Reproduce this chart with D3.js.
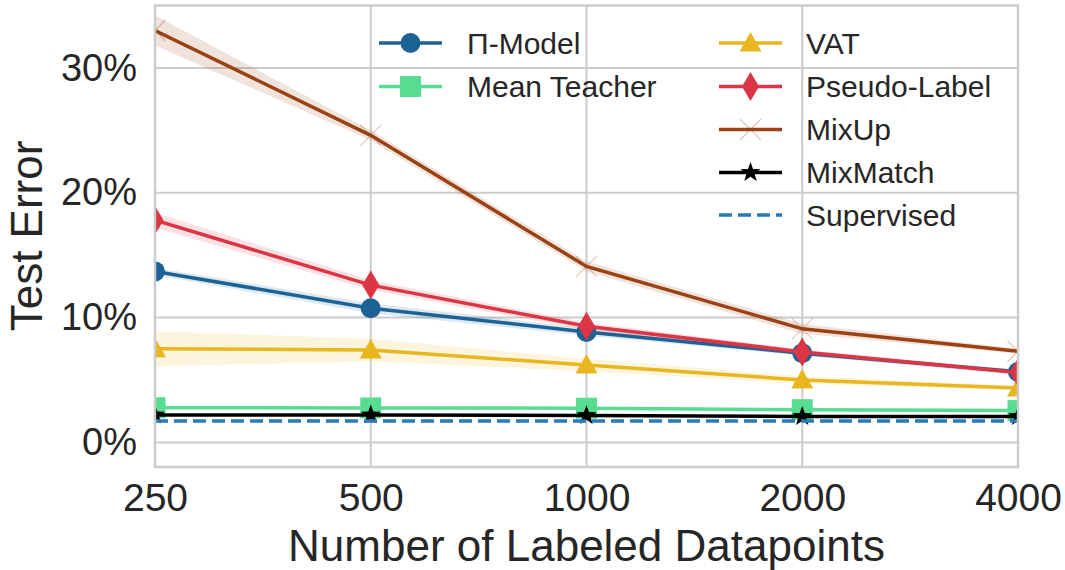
<!DOCTYPE html>
<html>
<head>
<meta charset="utf-8">
<script src="https://cdn.jsdelivr.net/npm/d3@7"></script>
<style>
  html, body { margin: 0; padding: 0; background: #ffffff; }
  svg { display: block; font-family: "Liberation Sans", Arial, sans-serif; }
</style>
</head>
<body>
<svg id="chart" width="1065" height="570"></svg>
<script>
// ---- data ----
const xValues = [250, 500, 1000, 2000, 4000];
const xTickLabels = ["250", "500", "1000", "2000", "4000"];
const yTicks = [0, 10, 20, 30];

const piModel      = [13.7, 10.75, 8.85, 7.15, 5.65];
const piModelErr   = [0.3, 0.4, 0.3, 0.2, 0.2];
const meanTeacher  = [2.78, 2.76, 2.74, 2.62, 2.55];
const meanTeachErr = [0.1, 0.1, 0.1, 0.1, 0.1];
const vat          = [7.5, 7.4, 6.2, 5.0, 4.35];
const vatErr       = [1.4, 0.9, 0.5, 0.3, 0.2];
const pseudoLabel  = [17.8, 12.6, 9.3, 7.25, 5.6];
const pseudoErr    = [0.6, 0.4, 0.3, 0.2, 0.2];
const mixUp        = [33.0, 24.6, 14.1, 9.1, 7.3];
const mixUpErr     = [1.2, 0.4, 0.4, 0.4, 0.2];
const mixMatch     = [2.2, 2.2, 2.15, 2.08, 2.07];
const mixMatchErr  = [0.05, 0.05, 0.05, 0.05, 0.05];
const supervised   = 1.72;

const seriesNames = ["Π-Model", "Mean Teacher", "VAT", "Pseudo-Label", "MixUp", "MixMatch", "Supervised"];

// ---- layout ----
const svg = d3.select("#chart");
const L = 155, R = 1018, T = 5.5, B = 467;
const x = d3.scaleLog().base(2).domain([250, 4000]).range([L, R]);
const y = d3.scaleLinear().domain([-1.97, 35.0]).range([B, T]);
const textColor = "#262626";
const gridColor = "#cccccc";

// clip
svg.append("defs").append("clipPath").attr("id", "plotclip")
  .append("rect").attr("x", L).attr("y", T).attr("width", R - L).attr("height", B - T);

// grid
const grid = svg.append("g");
grid.selectAll("line.gx").data(xValues).enter().append("line")
  .attr("x1", d => x(d)).attr("x2", d => x(d)).attr("y1", T).attr("y2", B)
  .attr("stroke", gridColor).attr("stroke-width", 2);
grid.selectAll("line.gy").data(yTicks).enter().append("line")
  .attr("x1", L).attr("x2", R).attr("y1", d => y(d)).attr("y2", d => y(d))
  .attr("stroke", gridColor).attr("stroke-width", 2);

// axes (tick labels via d3 axes)
const xAxis = d3.axisBottom(x).tickValues(xValues).tickFormat((d, i) => xTickLabels[i]).tickSize(0).tickPadding(16);
const gx = svg.append("g").attr("transform", `translate(0,${B})`).call(xAxis);
gx.select(".domain").remove();
gx.selectAll("text").attr("font-size", 39).attr("fill", textColor)
  .attr("font-family", "Liberation Sans, Arial, sans-serif");

const yAxis = d3.axisLeft(y).tickValues(yTicks).tickFormat(d => d + "%").tickSize(0).tickPadding(18);
const gy = svg.append("g").attr("transform", `translate(${L},0)`).call(yAxis);
gy.select(".domain").remove();
gy.selectAll("text").attr("font-size", 38).attr("fill", textColor)
  .attr("font-family", "Liberation Sans, Arial, sans-serif");

// axis titles
svg.append("text").attr("x", (L + R) / 2 + 0).attr("y", 561)
  .attr("text-anchor", "middle").attr("font-size", 44).attr("fill", textColor)
  .text("Number of Labeled Datapoints");
svg.append("text").attr("transform", "translate(42,236) rotate(-90)")
  .attr("text-anchor", "middle").attr("font-size", 44).attr("fill", textColor)
  .text("Test Error");

// ---- symbols ----
function starPath(ro, ri) {
  let p = [];
  for (let i = 0; i < 10; i++) {
    const r = i % 2 === 0 ? ro : ri;
    const a = -Math.PI / 2 + i * Math.PI / 5;
    p.push([r * Math.cos(a), r * Math.sin(a)]);
  }
  return "M" + p.map(q => q.join(",")).join("L") + "Z";
}
const markers = {
  circle: { d: d3.symbol(d3.symbolCircle, Math.PI * 10 * 10)(), stroke: false },
  square: { d: "M-10.5,-10.5L10.5,-10.5L10.5,10.5L-10.5,10.5Z", stroke: false },
  triangle: { d: "M0,-11L11,8.5L-11,8.5Z", stroke: false },
  diamond: { d: "M0,-14.5L8.5,0L0,14.5L-8.5,0Z", stroke: false },
  x: { d: "M-10.5,-10.5L10.5,10.5M-10.5,10.5L10.5,-10.5", stroke: true },
  star: { d: starPath(10.5, 4.3), stroke: false }
};

const series = [
  { name: seriesNames[0], vals: piModel, err: piModelErr, color: "#1d6295", marker: "circle" },
  { name: seriesNames[1], vals: meanTeacher, err: meanTeachErr, color: "#58dc92", marker: "square" },
  { name: seriesNames[2], vals: vat, err: vatErr, color: "#e8b61e", marker: "triangle" },
  { name: seriesNames[3], vals: pseudoLabel, err: pseudoErr, color: "#dc3545", marker: "diamond" },
  { name: seriesNames[4], vals: mixUp, err: mixUpErr, color: "#9b4114", marker: "x" },
  { name: seriesNames[5], vals: mixMatch, err: mixMatchErr, color: "#000000", marker: "star" }
];

const plot = svg.append("g").attr("clip-path", "url(#plotclip)");

const area = d3.area().x(d => x(d.x)).y0(d => y(d.v - d.e)).y1(d => y(d.v + d.e));
const line = d3.line().x(d => x(d.x)).y(d => y(d.v));

series.forEach(s => {
  const pts = xValues.map((xv, i) => ({ x: xv, v: s.vals[i], e: s.err[i] }));
  plot.append("path").datum(pts).attr("d", area)
    .attr("fill", s.color).attr("fill-opacity", 0.15).attr("stroke", "none");
  plot.append("path").datum(pts).attr("d", line)
    .attr("fill", "none").attr("stroke", s.color).attr("stroke-width", 3.5);
  const m = markers[s.marker];
  plot.selectAll(null).data(pts).enter().append("path")
    .attr("transform", d => `translate(${x(d.x)},${y(d.v)})`)
    .attr("d", m.d)
    .attr("fill", m.stroke ? "none" : s.color)
    .attr("stroke", m.stroke ? s.color : "none")
    .attr("stroke-opacity", m.stroke ? 0.3 : 1)
    .attr("stroke-width", m.stroke ? 1.2 : 0);
});

// supervised baseline
plot.append("line").attr("x1", x(250)).attr("x2", x(4000))
  .attr("y1", y(supervised)).attr("y2", y(supervised))
  .attr("stroke", "#2a7ab8").attr("stroke-width", 3.5).attr("stroke-dasharray", "13,6");

// frame
svg.append("rect").attr("x", L).attr("y", T).attr("width", R - L).attr("height", B - T)
  .attr("fill", "none").attr("stroke", gridColor).attr("stroke-width", 2.5);

// ---- legend ----
const legendItems = [
  { s: series[0], hx: 379, tx: 467, ly: 43 },
  { s: series[1], hx: 379, tx: 467, ly: 86.5 },
  { s: series[2], hx: 719, tx: 806, ly: 43 },
  { s: series[3], hx: 719, tx: 806, ly: 86.5 },
  { s: series[4], hx: 719, tx: 806, ly: 129.5 },
  { s: series[5], hx: 719, tx: 806, ly: 172.5 },
  { s: { name: seriesNames[6], color: "#2a7ab8", marker: null, dashed: true }, hx: 719, tx: 806, ly: 215 }
];
const lg = svg.append("g");
legendItems.forEach(it => {
  const s = it.s;
  const ln = lg.append("line").attr("x1", it.hx).attr("x2", it.hx + 63)
    .attr("y1", it.ly).attr("y2", it.ly).attr("stroke", s.color).attr("stroke-width", 3.5);
  if (s.dashed) ln.attr("stroke-dasharray", "13,6");
  if (s.marker) {
    const m = markers[s.marker];
    lg.append("path").attr("transform", `translate(${it.hx + 31.5},${it.ly})`)
      .attr("d", m.d)
      .attr("fill", m.stroke ? "none" : s.color)
      .attr("stroke", m.stroke ? s.color : "none")
      .attr("stroke-opacity", m.stroke ? 0.3 : 1)
      .attr("stroke-width", m.stroke ? 1.2 : 0);
  }
  lg.append("text").attr("x", it.tx).attr("y", it.ly + 10.5)
    .attr("font-size", 30).attr("fill", textColor).text(s.name);
});
</script>
</body>
</html>
